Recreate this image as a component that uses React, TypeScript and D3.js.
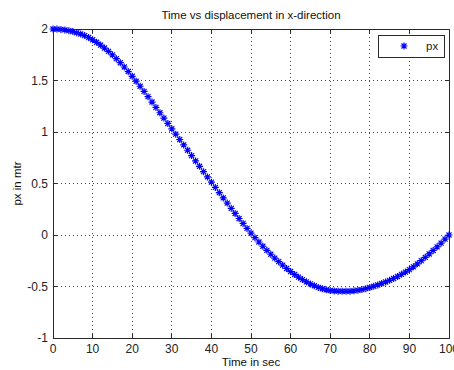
import React from "react";
import * as d3 from "d3";

const titleText = "Time vs displacement in x-direction";
const xLabelText = "Time in sec";
const yLabelText = "px in mtr";
const seriesName = "px";

const xTickValues = [0, 10, 20, 30, 40, 50, 60, 70, 80, 90, 100];
const yTickValues = [-1, -0.5, 0, 0.5, 1, 1.5, 2];
const yTickLabels = ["-1", "-0.5", "0", "0.5", "1", "1.5", "2"];

// displacement px (m), sampled every 1 s from t = 0 to t = 100
const pxValues = [
  2.0, 1.999, 1.996, 1.991, 1.984, 1.975, 1.964, 1.951, 1.936, 1.917,
  1.895, 1.871, 1.844, 1.815, 1.783, 1.749, 1.712, 1.673, 1.631, 1.587,
  1.541, 1.493, 1.444, 1.394, 1.343, 1.291, 1.239, 1.187, 1.135, 1.083,
  1.031, 0.979, 0.927, 0.875, 0.823, 0.771, 0.719, 0.667, 0.615, 0.564,
  0.513, 0.462, 0.411, 0.36, 0.31, 0.259, 0.209, 0.16, 0.112, 0.064,
  0.018, -0.026, -0.068, -0.109, -0.149, -0.187, -0.224, -0.259, -0.293, -0.325,
  -0.355, -0.383, -0.409, -0.433, -0.455, -0.475, -0.493, -0.509, -0.522, -0.532,
  -0.539, -0.543, -0.545, -0.546, -0.546, -0.545, -0.542, -0.537, -0.53, -0.521,
  -0.51, -0.498, -0.485, -0.471, -0.456, -0.44, -0.422, -0.403, -0.382, -0.36,
  -0.336, -0.309, -0.28, -0.249, -0.217, -0.184, -0.15, -0.115, -0.079, -0.04,
  0.0,
];
const timeValues = pxValues.map((_, i) => i);

const W = 454;
const H = 370;
const plot = { left: 53, right: 449, top: 29, bottom: 338 };
const FONT = "'Liberation Sans', Arial, Helvetica, sans-serif";
const BLUE = "#0000ff";

function Star({ x, y, r }: { x: number; y: number; r: number }) {
  const d = r * 0.72;
  return (
    <path
      d={`M${x - r},${y}L${x + r},${y}M${x},${y - r}L${x},${y + r}M${x - d},${y - d}L${x + d},${y + d}M${x - d},${y + d}L${x + d},${y - d}`}
      stroke={BLUE}
      strokeWidth={1.2}
      fill="none"
    />
  );
}

export default function App() {
  const x = d3.scaleLinear().domain([0, 100]).range([plot.left, plot.right]);
  const y = d3.scaleLinear().domain([-1, 2]).range([plot.bottom, plot.top]);
  const tickLen = 4;
  const axisColor = "#2a2a2a";
  const gridColor = "#444";

  return (
    <svg
      width={W}
      height={H}
      style={{ position: "absolute", left: 0, top: 0, background: "#fff" }}
      fontFamily={FONT}
    >
      <rect x={0} y={0} width={W} height={H} fill="#fff" />
      {/* grid */}
      {xTickValues.slice(1, -1).map((t) => (
        <line
          key={"gx" + t}
          x1={x(t)}
          x2={x(t)}
          y1={plot.top}
          y2={plot.bottom}
          stroke={gridColor}
          strokeWidth={1}
          strokeDasharray="1,3"
          shapeRendering="crispEdges"
        />
      ))}
      {yTickValues.slice(1, -1).map((t) => (
        <line
          key={"gy" + t}
          x1={plot.left}
          x2={plot.right}
          y1={y(t)}
          y2={y(t)}
          stroke={gridColor}
          strokeWidth={1}
          strokeDasharray="1,3"
          shapeRendering="crispEdges"
        />
      ))}
      {/* ticks */}
      {xTickValues.map((t) => (
        <g key={"tx" + t}>
          <line x1={x(t)} x2={x(t)} y1={plot.bottom} y2={plot.bottom - tickLen} stroke={axisColor} shapeRendering="crispEdges" />
          <line x1={x(t)} x2={x(t)} y1={plot.top} y2={plot.top + tickLen} stroke={axisColor} shapeRendering="crispEdges" />
          <text x={x(t)} y={plot.bottom + 15} textAnchor="middle" fontSize={12} fill="#222">
            {String(t)}
          </text>
        </g>
      ))}
      {yTickValues.map((t, i) => (
        <g key={"ty" + t}>
          <line x1={plot.left} x2={plot.left + tickLen} y1={y(t)} y2={y(t)} stroke={axisColor} shapeRendering="crispEdges" />
          <line x1={plot.right} x2={plot.right - tickLen} y1={y(t)} y2={y(t)} stroke={axisColor} shapeRendering="crispEdges" />
          <text x={plot.left - 5} y={y(t) + 4} textAnchor="end" fontSize={12} fill="#222">
            {yTickLabels[i]}
          </text>
        </g>
      ))}
      {/* axes box */}
      <rect
        x={plot.left}
        y={plot.top}
        width={plot.right - plot.left}
        height={plot.bottom - plot.top}
        fill="none"
        stroke={axisColor}
        strokeWidth={1}
        shapeRendering="crispEdges"
      />
      {/* data markers */}
      {pxValues.map((v, i) => (
        <Star key={"p" + i} x={x(timeValues[i])} y={y(v)} r={3.5} />
      ))}
      {/* legend */}
      <rect x={378} y={35} width={66} height={22} fill="#fff" stroke={axisColor} strokeWidth={1} shapeRendering="crispEdges" />
      <Star x={404} y={46} r={3.5} />
      <text x={426} y={50} fontSize={11.5} fill="#222">
        {seriesName}
      </text>
      {/* title and labels */}
      <text x={(plot.left + plot.right) / 2} y={19} textAnchor="middle" fontSize={11.5} fill="#111">
        {titleText}
      </text>
      <text x={(plot.left + plot.right) / 2} y={366} textAnchor="middle" fontSize={11.5} fill="#111">
        {xLabelText}
      </text>
      <text
        transform={`translate(21, ${(plot.top + plot.bottom) / 2}) rotate(-90)`}
        textAnchor="middle"
        fontSize={11.5}
        fill="#111"
      >
        {yLabelText}
      </text>
    </svg>
  );
}
